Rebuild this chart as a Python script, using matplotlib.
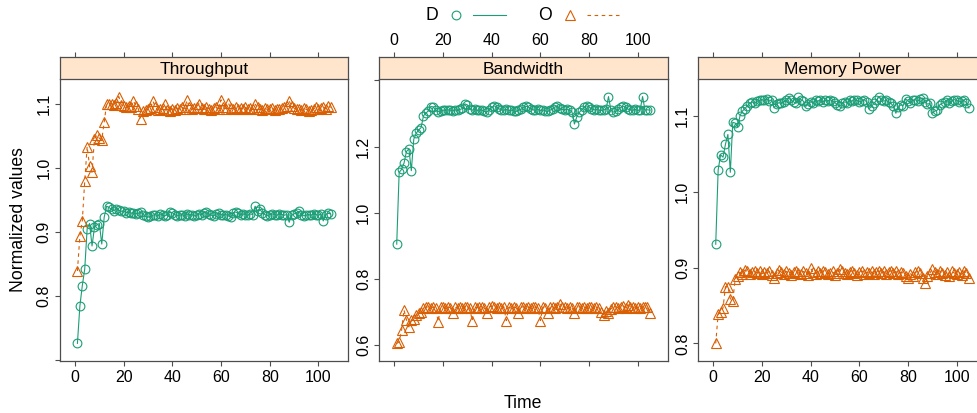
import matplotlib
matplotlib.use("Agg")
import matplotlib.pyplot as plt
from matplotlib.lines import Line2D
import numpy as np

plt.rcParams['font.family'] = ['Liberation Sans', 'DejaVu Sans']

# time steps 1..105
time = list(range(1, 106))

panels = ["Throughput", "Bandwidth", "Memory Power"]

throughput_d = [0.726, 0.784, 0.816, 0.842, 0.905, 0.913, 0.878, 0.907, 0.911, 0.913, 0.881, 0.923, 0.940, 0.938,
                0.935, 0.933, 0.936, 0.934, 0.932, 0.933, 0.930, 0.931, 0.929, 0.930, 0.928, 0.929, 0.931, 0.927, 0.924, 0.923,
                0.924, 0.926, 0.927, 0.925, 0.928, 0.926, 0.925, 0.927, 0.931, 0.930, 0.927, 0.925, 0.926, 0.927, 0.925, 0.928, 0.926, 0.927, 0.925, 0.926,
                0.928, 0.927, 0.930, 0.931, 0.928, 0.926, 0.925, 0.928, 0.929, 0.927, 0.926, 0.927, 0.925, 0.923, 0.930, 0.931, 0.929, 0.926, 0.928, 0.927,
                0.926, 0.928, 0.927, 0.940, 0.932, 0.935, 0.930, 0.927, 0.925, 0.927, 0.928, 0.927, 0.926, 0.928, 0.927, 0.926, 0.927, 0.915, 0.926, 0.928,
                0.930, 0.932, 0.927, 0.925, 0.926, 0.927, 0.926, 0.928, 0.927, 0.926, 0.928, 0.917, 0.927, 0.929, 0.928]
throughput_o = [0.839, 0.893, 0.917, 0.979, 1.033, 1.002, 0.993, 1.045, 1.051, 1.046, 1.044, 1.071, 1.100,
                1.099, 1.100, 1.098, 1.101, 1.111, 1.098, 1.096, 1.094, 1.097, 1.095, 1.104, 1.097, 1.092, 1.076, 1.088, 1.090, 1.091,
                1.093, 1.104, 1.095, 1.090, 1.091, 1.093, 1.099, 1.090, 1.089, 1.092, 1.090, 1.093, 1.091, 1.094, 1.092, 1.105, 1.094, 1.091, 1.093, 1.095,
                1.100, 1.093, 1.091, 1.094, 1.092, 1.090, 1.093, 1.095, 1.092, 1.106, 1.094, 1.091, 1.101, 1.093, 1.092, 1.095, 1.092, 1.093, 1.091, 1.094,
                1.092, 1.093, 1.091, 1.099, 1.094, 1.092, 1.090, 1.093, 1.091, 1.092, 1.093, 1.090, 1.092, 1.091, 1.093, 1.095, 1.097, 1.104, 1.096, 1.093,
                1.091, 1.092, 1.090, 1.093, 1.091, 1.089, 1.090, 1.092, 1.094, 1.091, 1.093, 1.095, 1.092, 1.097, 1.094]

bandwidth_d = [0.905, 1.122, 1.131, 1.150, 1.185, 1.193, 1.127, 1.222, 1.240, 1.250, 1.257, 1.293, 1.301, 1.308, 1.321, 1.320,
               1.310, 1.305, 1.308, 1.310, 1.309, 1.311, 1.310, 1.308, 1.311, 1.309, 1.312, 1.315, 1.329, 1.326,
               1.314, 1.310, 1.312, 1.309, 1.311, 1.310, 1.306, 1.304, 1.310, 1.318, 1.323, 1.320, 1.314, 1.311, 1.310, 1.312, 1.309, 1.310, 1.308, 1.306,
               1.310, 1.312, 1.318, 1.322, 1.320, 1.314, 1.311, 1.310, 1.312, 1.309, 1.311, 1.308, 1.306, 1.310, 1.314, 1.320, 1.322, 1.315, 1.312, 1.311,
               1.313, 1.310, 1.305, 1.268, 1.290, 1.303, 1.311, 1.318, 1.323, 1.320, 1.314, 1.311, 1.312, 1.310, 1.309, 1.311, 1.312, 1.351, 1.310, 1.304,
               1.306, 1.312, 1.318, 1.322, 1.319, 1.313, 1.311, 1.310, 1.312, 1.309, 1.311, 1.351, 1.310, 1.311, 1.310]
bandwidth_o = [0.605, 0.610, 0.645, 0.706, 0.676, 0.655, 0.676, 0.680, 0.691, 0.696, 0.700, 0.711,
               0.714, 0.716, 0.712, 0.715, 0.713, 0.671, 0.714, 0.716, 0.712, 0.715, 0.713, 0.696, 0.714, 0.712, 0.715, 0.713, 0.716, 0.714,
               0.712, 0.674, 0.715, 0.713, 0.716, 0.714, 0.712, 0.696, 0.715, 0.718, 0.714, 0.712, 0.715, 0.713, 0.716, 0.674, 0.714, 0.712, 0.715, 0.713,
               0.696, 0.714, 0.716, 0.712, 0.715, 0.713, 0.716, 0.714, 0.712, 0.674, 0.715, 0.713, 0.696, 0.714, 0.716, 0.712, 0.715, 0.724, 0.716, 0.714,
               0.712, 0.715, 0.713, 0.696, 0.714, 0.716, 0.712, 0.715, 0.713, 0.716, 0.714, 0.712, 0.715, 0.713, 0.700, 0.691, 0.704, 0.696, 0.710, 0.714,
               0.716, 0.712, 0.715, 0.718, 0.713, 0.722, 0.716, 0.714, 0.712, 0.715, 0.713, 0.716, 0.714, 0.714, 0.696]

memory_d = [0.931, 1.029, 1.049, 1.046, 1.063, 1.076, 1.026, 1.092, 1.091, 1.086, 1.101, 1.107, 1.110, 1.114, 1.117,
            1.119, 1.117, 1.120, 1.121, 1.122, 1.121, 1.123, 1.120, 1.122, 1.111, 1.116, 1.118, 1.117, 1.119, 1.121,
            1.124, 1.121, 1.119, 1.117, 1.125, 1.122, 1.120, 1.113, 1.116, 1.119, 1.118, 1.121, 1.120, 1.122, 1.119, 1.121, 1.120, 1.122, 1.120, 1.118,
            1.115, 1.113, 1.117, 1.119, 1.118, 1.121, 1.120, 1.122, 1.121, 1.119, 1.120, 1.122, 1.119, 1.110, 1.113, 1.117, 1.121, 1.126, 1.122, 1.120,
            1.121, 1.119, 1.117, 1.113, 1.104, 1.112, 1.115, 1.114, 1.123, 1.120, 1.118, 1.121, 1.122, 1.120, 1.123, 1.124, 1.119, 1.116, 1.117, 1.104,
            1.107, 1.108, 1.115, 1.117, 1.119, 1.121, 1.118, 1.120, 1.122, 1.121, 1.119, 1.120, 1.121, 1.118, 1.111]
memory_o = [0.800, 0.839, 0.841, 0.847, 0.875, 0.875, 0.859, 0.856, 0.885, 0.889, 0.894,
            0.892, 0.897, 0.895, 0.892, 0.894, 0.896, 0.893, 0.895, 0.892, 0.894, 0.893, 0.895, 0.891, 0.886, 0.893, 0.897, 0.894, 0.892, 0.895,
            0.893, 0.891, 0.894, 0.896, 0.893, 0.892, 0.895, 0.893, 0.891, 0.899, 0.894, 0.892, 0.895, 0.893, 0.896, 0.894, 0.892, 0.893, 0.895, 0.891,
            0.893, 0.898, 0.895, 0.893, 0.892, 0.894, 0.896, 0.893, 0.891, 0.894, 0.896, 0.892, 0.894, 0.893, 0.895, 0.892, 0.894, 0.896, 0.893, 0.895,
            0.892, 0.894, 0.896, 0.893, 0.895, 0.892, 0.894, 0.893, 0.889, 0.887, 0.892, 0.889, 0.894, 0.895, 0.893, 0.887, 0.880, 0.889, 0.893, 0.898,
            0.894, 0.892, 0.896, 0.893, 0.891, 0.894, 0.889, 0.895, 0.893, 0.892, 0.894, 0.891, 0.896, 0.893, 0.886]

series_d = [throughput_d, bandwidth_d, memory_d]
series_o = [throughput_o, bandwidth_o, memory_o]

x_ticks = [0, 20, 40, 60, 80, 100]
y_ticks = [[0.7, 0.8, 0.9, 1.0, 1.1],
           [0.6, 0.8, 1.0, 1.2, 1.4],
           [0.8, 0.9, 1.0, 1.1]]
y_labels = [["", "0.8", "0.9", "1.0", "1.1"],
            ["0.6", "0.8", "1.0", "1.2", ""],
            ["0.8", "0.9", "1.0", "1.1"]]

col_d = "#1B9E77"
col_o = "#D95F02"
strip_bg = "#FFE5CC"
frame = "#4D4D4D"
ms_d, ms_o = 6.3, 7.8

W, H = 977, 413
fig = plt.figure(figsize=(W / 100, H / 100), dpi=100)


def rect(l, t, r, b):
    return [l / W, 1 - b / H, (r - l) / W, (b - t) / H]


def pad_range(vals, f=0.07):
    lo, hi = min(vals), max(vals)
    p = (hi - lo) * f
    return lo - p, hi + p


lefts = [59.7, 379.0, 698.0]
pw = 288.6
top, strip_top, bottom = 79.3, 57.3, 360.7
xlim = pad_range(time)

for i, name in enumerate(panels):
    l = lefts[i]
    ax = fig.add_axes(rect(l, top, l + pw, bottom))
    sx = fig.add_axes(rect(l, strip_top, l + pw, top))

    ax.plot(time, series_d[i], color=col_d, lw=0.8, marker="o", ms=ms_d,
            mfc="none", mec=col_d, mew=0.8)
    ax.plot(time, series_o[i], color=col_o, lw=0.8, ls=(0, (3.2, 3.2)), marker="^",
            ms=ms_o, mfc="none", mec=col_o, mew=0.8)

    ax.set_xlim(xlim)
    ax.set_ylim(pad_range(series_d[i] + series_o[i]))
    ax.set_yticks(y_ticks[i])
    ax.set_yticklabels(y_labels[i], rotation=90, va="center")
    ax.set_xticks(x_ticks)
    ax.tick_params(direction="out", length=3.8, width=0.8, color=frame,
                   labelsize=11.5, pad=3)
    ax.tick_params(axis="y", pad=2)
    for s in ax.spines.values():
        s.set_color(frame)
        s.set_linewidth(0.9)
    ax.spines["top"].set_visible(False)

    sx.set_facecolor(strip_bg)
    sx.set_xlim(xlim)
    sx.set_yticks([])
    sx.set_xticks(x_ticks)
    sx.xaxis.tick_top()
    sx.tick_params(direction="out", length=3.8, width=0.8, color=frame,
                   labelsize=11.5, pad=3)
    for s in sx.spines.values():
        s.set_color(frame)
        s.set_linewidth(0.9)
    sx.text(0.5, 0.45, name, transform=sx.transAxes, ha="center", va="center",
            fontsize=12.5)

    # lattice-style alternating tick labels
    if i == 1:
        ax.set_xticklabels([])
    else:
        sx.set_xticklabels([])

fig.text(19 / W, 1 - 220 / H, "Normalized values", rotation=90,
         ha="center", va="center", fontsize=12.7)
fig.text(522.7 / W, 1 - 403 / H, "Time", ha="center", va="center", fontsize=12.7)

# key above the panels
ky = 1 - 15 / H
fig.text(432 / W, ky, "D", ha="center", va="center", fontsize=12.7)
fig.add_artist(Line2D([455.7 / W], [ky], marker="o", ms=ms_d, mfc="none",
                      mec=col_d, mew=0.8, transform=fig.transFigure))
fig.add_artist(Line2D([473 / W, 506 / W], [ky, ky], color=col_d, lw=0.8,
                      transform=fig.transFigure))
fig.text(545 / W, ky, "O", ha="center", va="center", fontsize=12.7)
fig.add_artist(Line2D([570 / W], [ky], marker="^", ms=ms_o, mfc="none",
                      mec=col_o, mew=0.8, transform=fig.transFigure))
fig.add_artist(Line2D([587 / W, 620 / W], [ky, ky], color=col_o, lw=0.8,
                      ls=(0, (3.2, 3.2)), transform=fig.transFigure))

fig.savefig("out.png", dpi=100)
